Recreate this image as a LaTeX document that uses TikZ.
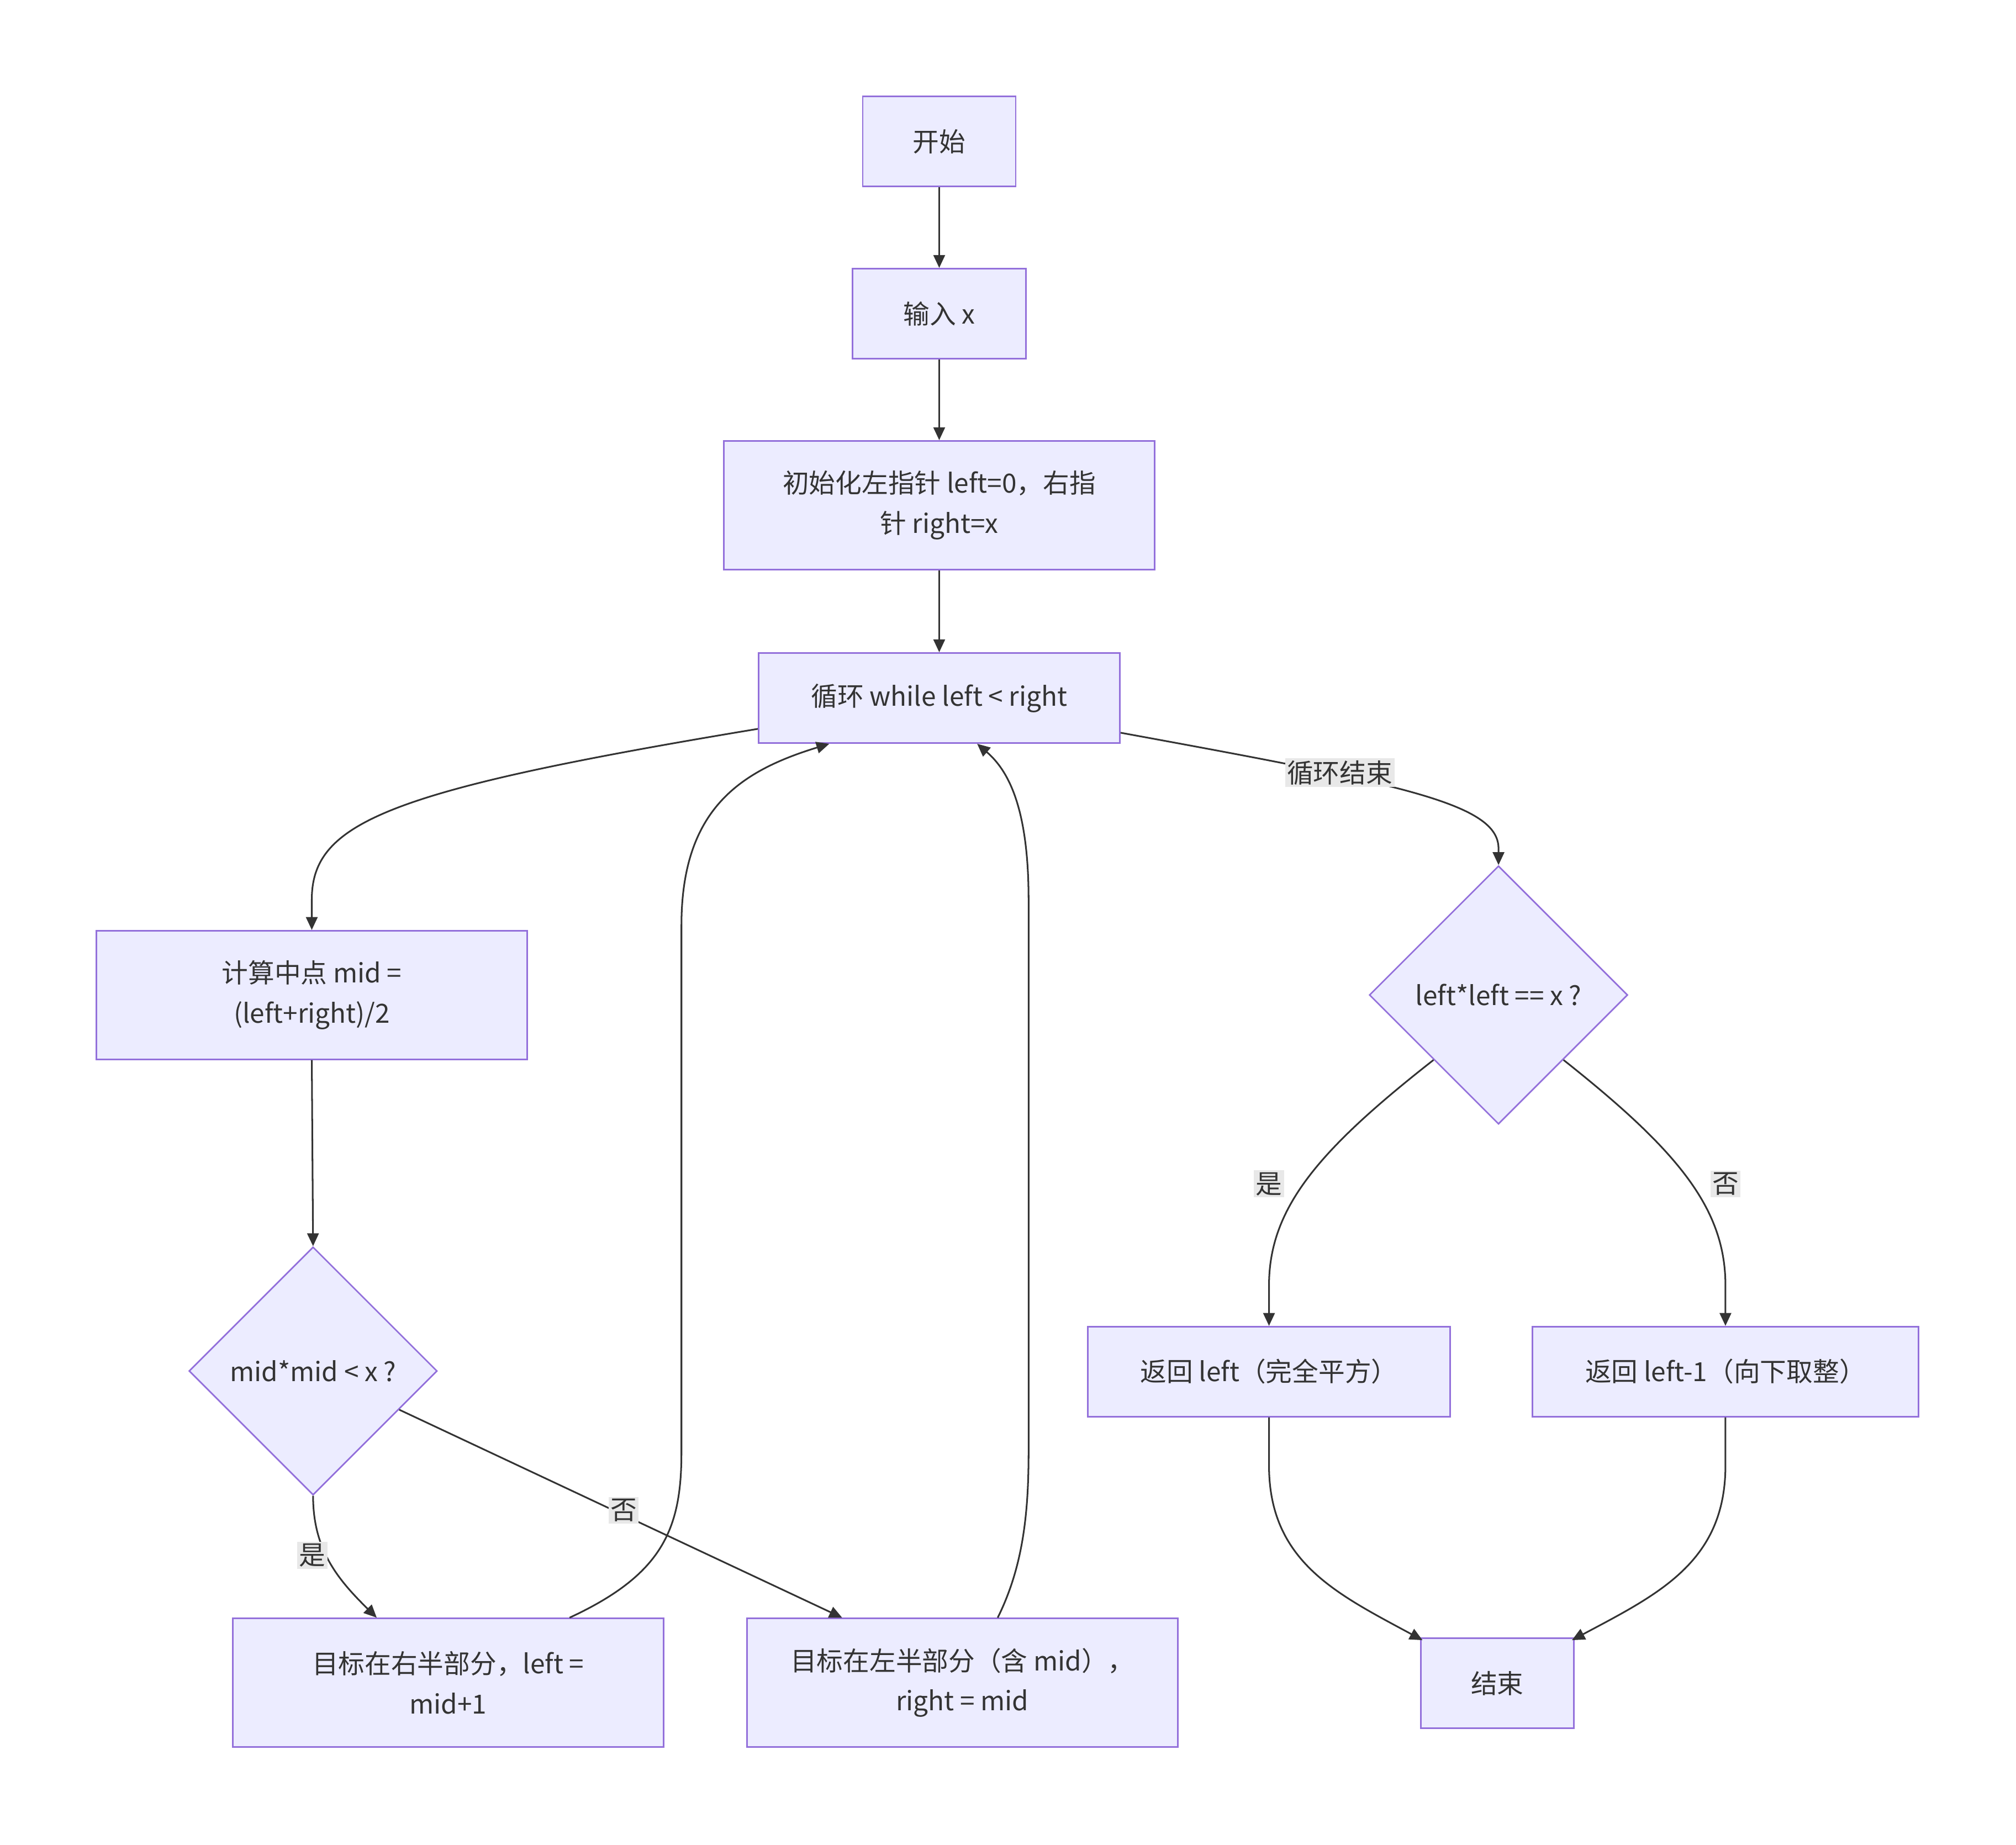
\documentclass[tikz,border=0pt]{standalone}
\usepackage{fontspec}
\setmainfont{Noto Sans CJK SC}
\usetikzlibrary{shapes.geometric,arrows.meta,calc}
\definecolor{nfill}{HTML}{ECECFF}
\definecolor{nstroke}{HTML}{9370DB}
\definecolor{ink}{HTML}{333333}
\definecolor{lblbg}{HTML}{E8E8E8}
\begin{document}
\begin{tikzpicture}[x=1pt,y=-1pt,
  every node/.style={font=\fontsize{20.5}{31}\selectfont, text=ink},
  box/.style={draw=nstroke, fill=nfill, line width=1.2pt, rectangle, inner sep=0pt, align=center},
  dia/.style={draw=nstroke, fill=nfill, line width=1.2pt, diamond, aspect=1, inner sep=0pt, align=center},
  edge/.style={draw=ink, line width=1.3pt, -{Triangle[length=10pt,width=9pt]}},
  lbl/.style={fill=lblbg, inner sep=1.5pt}
]
\useasboundingbox (0,0) rectangle (1568,1435);
\fill[white] (0,0) rectangle (1568,1435);

% nodes
\node[box, minimum width=119pt, minimum height=70pt] (start) at (730.5,110) {开始};
\node[box, minimum width=135pt, minimum height=70pt] (input) at (730.5,244) {输入 x};
\node[box, minimum width=335pt, minimum height=100pt] (init) at (730.5,393) {初始化左指针 left=0，右指\\针 right=x};
\node[box, minimum width=281pt, minimum height=70pt] (loop) at (730.5,543) {循环 while left < right};
\node[box, minimum width=335pt, minimum height=100pt] (calc) at (242.5,774) {计算中点 mid =\\(left+right)/2};
\node[dia, minimum width=193pt, minimum height=193pt] (cmp) at (243.5,1066.5) {mid*mid < x ?};
\node[box, minimum width=335pt, minimum height=100pt] (rhalf) at (348.5,1309) {目标在右半部分，left =\\mid+1};
\node[box, minimum width=335pt, minimum height=100pt] (lhalf) at (748.5,1309) {目标在左半部分（含 mid），\\right = mid};
\node[dia, minimum width=201pt, minimum height=201pt] (sq) at (1165.5,774) {left*left == x ?};
\node[box, minimum width=282pt, minimum height=70pt] (ret1) at (987,1067) {返回 left（完全平方）};
\node[box, minimum width=300pt, minimum height=70pt] (ret2) at (1342,1067) {返回 left-1（向下取整）};
\node[box, minimum width=119pt, minimum height=70pt] (stop) at (1164.5,1309.5) {结束};

% straight edges
\draw[edge] (start.south) -- (input.north);
\draw[edge] (input.south) -- (init.north);
\draw[edge] (init.south) -- (loop.north);
\draw[edge] (calc.south) -- (cmp.north);

% loop -> calc
\draw[edge] ([yshift=-24pt]loop.west) .. controls (300,615) and (242.5,640) .. (242.5,700) -- (calc.north);

% cmp -> rhalf (yes)
\draw[edge] (cmp.south) .. controls (243.5,1205) and (262,1228) .. ([xshift=-55.5pt]rhalf.north);
\node[lbl] (yes1) at (243,1210) {是};

% cmp -> lhalf (no)
\draw[edge] ($(cmp.east)!0.31!(cmp.south)$) -- ([xshift=-93.5pt]lhalf.north);
\node[lbl] (no1) at (485,1175) {否};

% rhalf -> loop
\draw[edge] ([xshift=94.5pt]rhalf.north) .. controls (515,1225) and (530,1190) .. (530,1130) -- (530,720) .. controls (530,630) and (575,600) .. ([xshift=-85.5pt]loop.south);

% lhalf -> loop
\draw[edge] ([xshift=27.5pt]lhalf.north) .. controls (795,1220) and (800,1180) .. (800,1130) -- (800,700) .. controls (800,630) and (785,600) .. ([xshift=29.5pt]loop.south);

% loop -> sq
\draw[edge] ([yshift=-27pt]loop.east) .. controls (1090,610) and (1165.5,625) .. (1165.5,660) -- (sq.north);
\node[lbl] (lend) at (1042,601) {循环结束};

% sq -> ret1 / ret2
\draw[edge] (sq.south west) .. controls (1025,895) and (987,940) .. (987,1000) -- (ret1.north);
\node[lbl] (yes2) at (987,921) {是};
\draw[edge] (sq.south east) .. controls (1305,895) and (1342,940) .. (1342,1000) -- (ret2.north);
\node[lbl] (no2) at (1342,921) {否};

% ret -> stop
\draw[edge] (ret1.south) -- (987,1140) .. controls (987,1215) and (1040,1240) .. ([xshift=2pt,yshift=-2pt]stop.north west);
\draw[edge] (ret2.south) -- (1342,1140) .. controls (1342,1215) and (1290,1240) .. ([xshift=-2pt,yshift=-2pt]stop.north east);
\end{tikzpicture}
\end{document}
